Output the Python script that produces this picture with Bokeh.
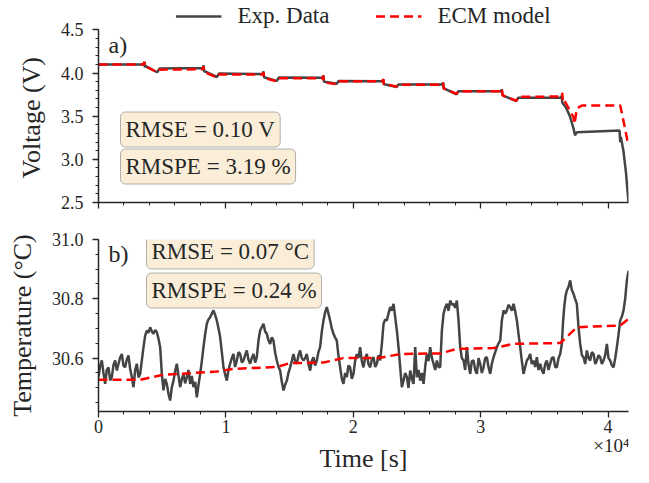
from bokeh.plotting import figure
from bokeh.models import FixedTicker, Label, Legend, LegendItem, Range1d
from bokeh.layouts import column
from bokeh.embed import file_html
from bokeh.resources import INLINE

FONT = "Liberation Serif"
TXT = "#262626"

# ---------------- data ----------------
volt_exp_t = [0, 3550, 3600, 3640, 3700, 4600, 4800, 8200, 8250, 8290, 8350, 9300, 9450,
              12900, 12950, 13000, 13050, 14000, 14150, 17600, 17650, 17700, 17750, 18700, 18850,
              22300, 22350, 22400, 22450, 23400, 23550, 27000, 27050, 27100, 27150, 28100, 28250,
              31600, 31650, 31700, 31750, 32800, 32950, 36300, 36350, 36400, 36700, 37000, 37300,
              37400, 37550, 40900, 40950, 41000, 41200, 41400, 41600]
volt_exp_v = [4.10, 4.10, 4.13, 4.07, 4.08, 4.01, 4.055, 4.06, 4.09, 4.02, 4.02, 3.955, 3.995,
              3.99, 4.02, 3.95, 3.95, 3.91, 3.948, 3.945, 3.975, 3.90, 3.90, 3.877, 3.908,
              3.906, 3.93, 3.87, 3.87, 3.84, 3.868, 3.868, 3.89, 3.82, 3.82, 3.755, 3.79,
              3.79, 3.81, 3.76, 3.74, 3.675, 3.715, 3.715, 3.74, 3.66, 3.60, 3.50, 3.35,
              3.28, 3.315, 3.335, 3.20, 3.26, 3.10, 2.85, 2.50]

volt_ecm_t = [0, 3550, 3600, 3640, 3700, 4600, 4800, 8200, 8250, 8290, 8350, 9300, 9450,
              12900, 12950, 13000, 13050, 14000, 14150, 17600, 17650, 17700, 17750, 18700, 18850,
              22300, 22350, 22400, 22450, 23400, 23550, 27000, 27050, 27100, 27150, 28100, 28250,
              31600, 31650, 31700, 31750, 32800, 32950, 36350, 36400, 36450, 36500, 37280, 37360,
              37550, 37940, 40950, 41200, 41600]
volt_ecm_v = [4.10, 4.10, 4.13, 4.07, 4.08, 4.01, 4.04, 4.045, 4.08, 4.01, 4.01, 3.95, 3.985,
              3.985, 4.01, 3.94, 3.94, 3.905, 3.94, 3.94, 3.97, 3.89, 3.89, 3.872, 3.905,
              3.905, 3.93, 3.87, 3.87, 3.845, 3.865, 3.865, 3.89, 3.82, 3.82, 3.76, 3.79,
              3.79, 3.82, 3.75, 3.74, 3.68, 3.725, 3.729, 3.77, 3.68, 3.70, 3.49, 3.41,
              3.59, 3.625, 3.625, 3.45, 3.16]

# measured temperature: (time [s], temperature [degC])
temp_exp = [
    (0, 30.536), (130, 30.575), (262, 30.592), (390, 30.55), (523, 30.513), (650, 30.56),
    (785, 30.569), (915, 30.525), (1046, 30.536), (1180, 30.578), (1308, 30.592), (1440, 30.558),
    (1570, 30.581), (1700, 30.602), (1831, 30.614), (1960, 30.575), (2093, 30.569), (2220, 30.595),
    (2354, 30.609), (2480, 30.565), (2616, 30.536), (2747, 30.502), (2880, 30.56), (3008, 30.581),
    (3140, 30.535), (3270, 30.547),
    (3532, 30.637), (3660, 30.675), (3793, 30.693), (3920, 30.685), (4055, 30.704), (4190, 30.69),
    (4316, 30.682), (4450, 30.695), (4578, 30.688), (4710, 30.665), (4840, 30.637), (4970, 30.547),
    (5101, 30.491),
    (5230, 30.53), (5363, 30.513), (5490, 30.48), (5624, 30.457), (5750, 30.5), (5886, 30.524),
    (6010, 30.555), (6148, 30.581), (6280, 30.54), (6409, 30.502), (6540, 30.53), (6671, 30.547),
    (6800, 30.515), (6932, 30.536), (7060, 30.56), (7194, 30.513), (7320, 30.54), (7456, 30.502),
    (7590, 30.52), (7717, 30.468), (7850, 30.51), (7979, 30.547),
    (8110, 30.59), (8240, 30.637), (8370, 30.68), (8502, 30.716), (8630, 30.73), (8764, 30.738),
    (8900, 30.75), (9025, 30.761), (9160, 30.745), (9287, 30.727), (9420, 30.7), (9548, 30.671),
    (9680, 30.62), (9810, 30.569),
    (9940, 30.545), (10072, 30.524), (10200, 30.56), (10333, 30.581), (10460, 30.6), (10595, 30.614),
    (10720, 30.57), (10856, 30.592), (10990, 30.62), (11118, 30.614), (11250, 30.585), (11380, 30.592),
    (11510, 30.61), (11641, 30.626), (11770, 30.595), (11903, 30.581), (12030, 30.6), (12164, 30.614),
    (12300, 30.585), (12426, 30.603),
    (12560, 30.66), (12688, 30.693), (12820, 30.705), (12949, 30.716), (13080, 30.69), (13211, 30.682),
    (13340, 30.66), (13472, 30.648), (13600, 30.67), (13734, 30.659), (13860, 30.62), (13996, 30.592),
    (14130, 30.57), (14257, 30.558), (14390, 30.52), (14519, 30.491),
    (14650, 30.51), (14780, 30.524), (14910, 30.55), (15042, 30.569), (15170, 30.59), (15304, 30.614),
    (15430, 30.59), (15565, 30.581), (15700, 30.61), (15827, 30.626), (15960, 30.6), (16088, 30.592),
    (16220, 30.6), (16350, 30.614), (16480, 30.58), (16612, 30.558), (16740, 30.59), (16873, 30.603),
    (17000, 30.575), (17135, 30.592), (17260, 30.62), (17396, 30.637),
    (17530, 30.69), (17658, 30.727), (17790, 30.755), (17920, 30.772), (18050, 30.75), (18181, 30.727),
    (18310, 30.7), (18443, 30.682), (18570, 30.67), (18704, 30.659), (18830, 30.61), (18966, 30.569),
    (19100, 30.53), (19228, 30.513),
    (19360, 30.55), (19489, 30.536), (19620, 30.575), (19751, 30.569), (19880, 30.53), (20012, 30.547),
    (20140, 30.59), (20274, 30.614), (20400, 30.6), (20536, 30.637), (20670, 30.59), (20797, 30.569),
    (20930, 30.6), (21059, 30.614), (21190, 30.58), (21326, 30.569), (21460, 30.595), (21588, 30.603),
    (21720, 30.57), (21849, 30.581), (21980, 30.61), (22111, 30.592), (22242, 30.648),
    (22372, 30.716), (22500, 30.73), (22634, 30.727), (22760, 30.75), (22896, 30.772), (23020, 30.76),
    (23157, 30.783), (23288, 30.738), (23419, 30.693), (23550, 30.637), (23681, 30.569), (23811, 30.502),
    (23942, 30.524), (24070, 30.55), (24204, 30.536), (24330, 30.5), (24466, 30.558), (24600, 30.53),
    (24727, 30.513), (24858, 30.637), (24989, 30.536), (25120, 30.56), (25250, 30.524), (25380, 30.55),
    (25512, 30.513), (25640, 30.57), (25774, 30.614), (25900, 30.59), (26035, 30.637), (26170, 30.6),
    (26297, 30.581), (26430, 30.56), (26559, 30.592), (26690, 30.57), (26820, 30.569),
    (26951, 30.693), (27082, 30.749), (27210, 30.77), (27344, 30.783), (27470, 30.76), (27605, 30.794),
    (27740, 30.78), (27867, 30.783), (28000, 30.77), (28128, 30.794), (28259, 30.727), (28390, 30.637),
    (28520, 30.6), (28652, 30.592), (28780, 30.56), (28913, 30.637), (29040, 30.58), (29175, 30.547),
    (29300, 30.59), (29436, 30.592), (29570, 30.56), (29698, 30.547), (29830, 30.6), (29960, 30.581),
    (30090, 30.55), (30221, 30.569), (30350, 30.6), (30483, 30.603), (30610, 30.57), (30745, 30.547),
    (30870, 30.58), (31006, 30.603), (31140, 30.62), (31268, 30.637), (31400, 30.65), (31530, 30.659),
    (31660, 30.727), (31791, 30.761), (31920, 30.75), (32053, 30.761), (32180, 30.78), (32314, 30.772),
    (32450, 30.76), (32576, 30.783), (32700, 30.76), (32838, 30.727), (32970, 30.68), (33099, 30.637),
    (33230, 30.59), (33361, 30.547),
    (33490, 30.57), (33622, 30.592), (33750, 30.6), (33884, 30.614), (34010, 30.58), (34146, 30.592),
    (34280, 30.57), (34407, 30.603), (34540, 30.56), (34669, 30.581), (34800, 30.56), (34931, 30.547),
    (35060, 30.58), (35192, 30.592), (35320, 30.56), (35454, 30.581), (35580, 30.6), (35716, 30.603),
    (35850, 30.57), (35977, 30.569), (36110, 30.6), (36239, 30.614), (36370, 30.648),
    (36460, 30.72), (36553, 30.772), (36660, 30.81), (36762, 30.828), (36890, 30.84), (37024, 30.862),
    (37150, 30.83), (37285, 30.817), (37410, 30.8), (37547, 30.783), (37678, 30.704), (37809, 30.648),
    (37940, 30.61), (38070, 30.603), (38200, 30.58), (38332, 30.626), (38460, 30.6), (38593, 30.592),
    (38720, 30.62), (38855, 30.614), (38990, 30.58), (39117, 30.592), (39250, 30.61), (39378, 30.603),
    (39510, 30.58), (39640, 30.592), (39770, 30.61), (39902, 30.648), (40030, 30.6), (40163, 30.592),
    (40300, 30.575), (40425, 30.569), (40560, 30.6), (40686, 30.637), (40820, 30.68), (40948, 30.727),
    (41080, 30.74), (41210, 30.761), (41340, 30.8), (41471, 30.862), (41602, 30.895),
]
temp_exp_t = [t for t, _ in temp_exp]
temp_exp_v = [v for _, v in temp_exp]

temp_ecm_t = [0, 3270, 5100, 7200, 9290, 10600, 14000, 15000, 17660, 19200, 21300, 22110,
              23680, 26820, 28130, 31010, 32580, 36250, 37540, 40950, 41600]
temp_ecm_v = [30.527, 30.527, 30.544, 30.549, 30.555, 30.564, 30.570, 30.583, 30.585, 30.600,
              30.600, 30.601, 30.614, 30.616, 30.631, 30.634, 30.648, 30.651, 30.704, 30.710,
              30.732]

x_major = [0, 10000, 20000, 30000, 40000]
x_labels = ["0", "1", "2", "3", "4"]
x_minor = [2000 * i for i in range(21)]
v_major = [2.5, 3.0, 3.5, 4.0, 4.5]
v_labels = ["2.5", "3.0", "3.5", "4.0", "4.5"]
v_minor = [round(2.5 + 0.1 * i, 2) for i in range(21)]
t_major = [30.6, 30.8, 31.0]
t_labels = ["30.6", "30.8", "31.0"]
t_minor = [round(30.45 + 0.05 * i, 2) for i in range(12)]

NBSP = "\u00a0"

# ---------------- styling helpers ----------------
def style_axis(ax, size="18px"):
    ax.axis_line_color = TXT
    ax.axis_line_width = 1.5
    ax.major_tick_line_color = TXT
    ax.minor_tick_line_color = TXT
    ax.major_tick_line_width = 1.3
    ax.minor_tick_line_width = 1.0
    ax.major_tick_out = 6
    ax.major_tick_in = 0
    ax.minor_tick_out = 3
    ax.minor_tick_in = 0
    ax.major_label_text_font = FONT
    ax.major_label_text_font_size = size
    ax.major_label_text_color = TXT
    ax.axis_label_text_font = FONT
    ax.axis_label_text_font_size = "26px"
    ax.axis_label_text_font_style = "normal"
    ax.axis_label_text_color = TXT


def make_fig(ylo, yhi, fh, top, bottom, **kw):
    p = figure(frame_width=530, frame_height=fh, output_backend="svg", toolbar_location=None,
               x_range=Range1d(0, 41600), y_range=Range1d(ylo, yhi),
               min_border_left=98, min_border_right=5, min_border_top=top,
               min_border_bottom=bottom, **kw)
    p.outline_line_color = None
    p.grid.visible = False
    p.background_fill_color = "white"
    p.border_fill_color = "white"
    return p


def box(p, text, x, y):
    p.add_layout(Label(x=x, y=y, x_units="screen", y_units="screen", text=text,
                       text_font=FONT, text_font_size="23px", text_color=TXT,
                       text_baseline="middle", text_align="left",
                       background_fill_color="wheat", background_fill_alpha=0.5,
                       border_line_color="#808080", border_line_alpha=0.6, border_line_width=1,
                       padding=5, border_radius=5))


# ---------------- top: voltage (frame extended upward to host the legend) ----------------
p1 = make_fig(2.5, 4.842, 202, 0, 14)
r_exp = p1.line(volt_exp_t, volt_exp_v, line_color="#444444", line_width=2.5)
r_ecm = p1.line(volt_ecm_t, volt_ecm_v, line_color="red", line_width=2.5, line_dash="9 5")
p1.xaxis.ticker = FixedTicker(ticks=x_major, minor_ticks=x_minor)
p1.yaxis.ticker = FixedTicker(ticks=v_major, minor_ticks=v_minor)
p1.yaxis.major_label_overrides = dict(zip(v_major, v_labels))
p1.yaxis.bounds = (2.5, 4.5)
p1.yaxis.axis_label = "Voltage (V)" + NBSP * 5
style_axis(p1.xaxis[0])
style_axis(p1.yaxis[0])
p1.xaxis.major_label_overrides = {t: "" for t in x_major}
p1.xaxis.major_label_text_font_size = "0px"
p1.xaxis.major_label_standoff = 0
p1.yaxis.major_label_standoff = 9
p1.yaxis.axis_label_standoff = 12

p1.add_layout(Label(x=10, y=158, x_units="screen", y_units="screen", text="a)",
                    text_font=FONT, text_font_size="24px", text_color=TXT, text_baseline="middle"))
box(p1, "RMSE = 0.10 V", 22, 73)
box(p1, "RMSPE = 3.19 %", 22, 36)

legend = Legend(items=[LegendItem(label="Exp. Data", renderers=[r_exp]),
                       LegendItem(label="ECM model", renderers=[r_ecm])],
                orientation="horizontal", location="top",
                glyph_width=46, label_standoff=16, spacing=46, padding=0, margin=3,
                border_line_color=None, background_fill_alpha=0,
                label_text_font=FONT, label_text_font_size="23px", label_text_color=TXT)
p1.add_layout(legend, "center")

# ---------------- bottom: temperature ----------------
p2 = make_fig(30.42, 31.0, 172, 23, 0)
p2.line(temp_exp_t, temp_exp_v, line_color="#444444", line_width=2.5)
p2.line(temp_ecm_t, temp_ecm_v, line_color="red", line_width=2.5, line_dash="9 5")
p2.xaxis.ticker = FixedTicker(ticks=x_major, minor_ticks=x_minor)
p2.xaxis.major_label_overrides = dict(zip(x_major, x_labels))
p2.yaxis.ticker = FixedTicker(ticks=t_major, minor_ticks=t_minor)
p2.yaxis.major_label_overrides = dict(zip(t_major, t_labels))
p2.yaxis.axis_label = "Temperature (°C)"
style_axis(p2.xaxis[0])
style_axis(p2.yaxis[0])
p2.xaxis.major_label_standoff = 2
p2.yaxis.major_label_standoff = 9
p2.yaxis.axis_label_standoff = 12

p2.add_layout(Label(x=10, y=158, x_units="screen", y_units="screen", text="b)",
                    text_font=FONT, text_font_size="24px", text_color=TXT, text_baseline="middle"))
box(p2, "RMSE = 0.07 °C", 48, 160)
box(p2, "RMSPE = 0.24 %", 48, 121)

# ---------------- strip under the axes: x multiplier and axis title ----------------
p3 = figure(frame_width=530, frame_height=40, output_backend="svg", toolbar_location=None,
            x_range=Range1d(0, 1), y_range=Range1d(0, 1), x_axis_type=None, y_axis_type=None,
            min_border_left=98, min_border_right=5, min_border_top=0, min_border_bottom=0)
p3.outline_line_color = None
p3.grid.visible = False
p3.add_layout(Label(x=531, y=30, x_units="screen", y_units="screen", text="×10⁴",
                    text_font=FONT, text_font_size="19px", text_color=TXT,
                    text_align="right", text_baseline="middle"))
p3.add_layout(Label(x=265, y=17, x_units="screen", y_units="screen", text="Time [s]",
                    text_font=FONT, text_font_size="26px", text_color=TXT,
                    text_align="center", text_baseline="middle"))

layout = column(p1, p2, p3)
open("out.html", "w").write(file_html(layout, INLINE))
